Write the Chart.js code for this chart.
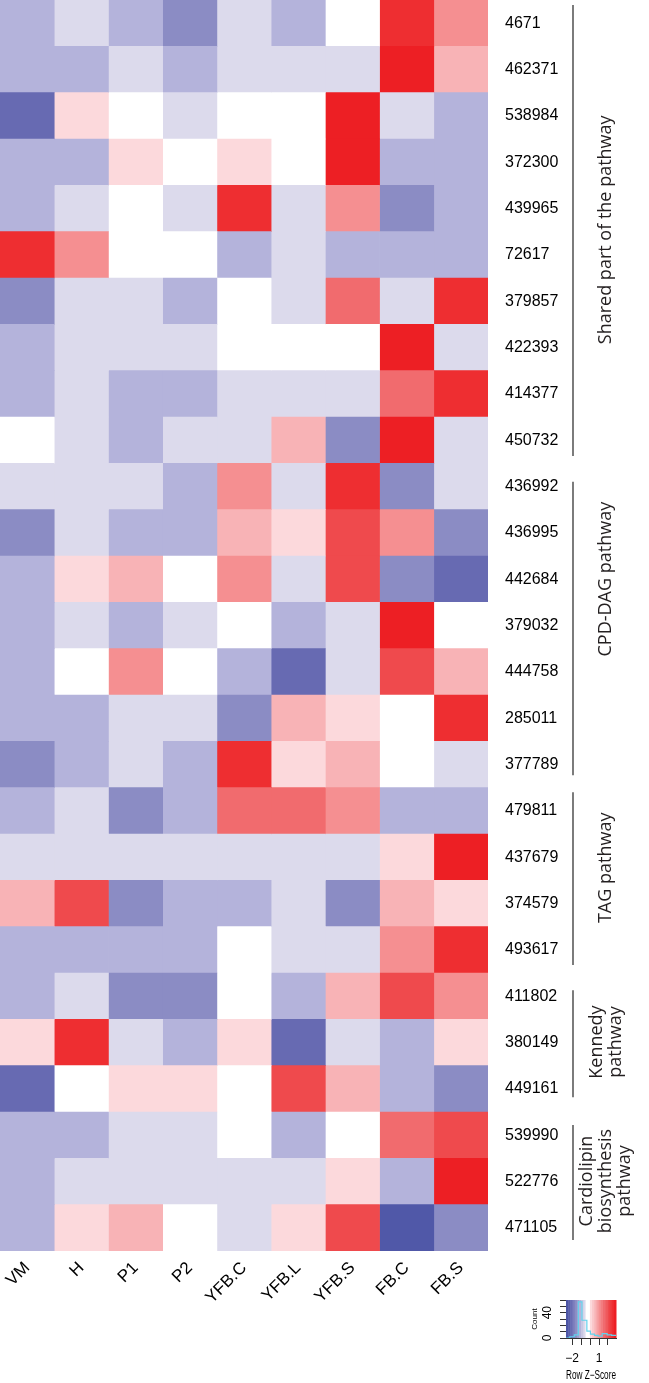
<!DOCTYPE html>
<html>
<head>
<meta charset="utf-8">
<script src="https://cdn.jsdelivr.net/npm/chart.js@4.4.0/dist/chart.umd.min.js"></script>
<style>
  html, body { margin: 0; padding: 0; background: #fff; }
  #wrap { position: relative; width: 649px; height: 1383px; }
  #heat { position: absolute; left: 0; top: 0; }
  #key { position: absolute; left: 500px; top: 1280px; }
</style>
</head>
<body>
<div id="wrap">
  <canvas id="heat" width="649" height="1383"></canvas>
  <canvas id="key" width="149" height="103"></canvas>
</div>
<script>
// columns of the heatmap
var samples = ['VM', 'H', 'P1', 'P2', 'YFB.C', 'YFB.L', 'YFB.S', 'FB.C', 'FB.S'];

// rows (gene ids), top to bottom
var genes = ['4671', '462371', '538984', '372300', '439965', '72617', '379857', '422393',
  '414377', '450732', '436992', '436995', '442684', '379032', '444758', '285011', '377789',
  '479811', '437679', '374579', '493617', '411802', '380149', '449161', '539990', '522776', '471105'];

// colour level of each cell (row z-score bins: -5 deep blue ... 0 white ... 7 deep red)
var levels = [
  [-2, -1, -2, -3, -1, -2,  0,  6,  3],
  [-2, -2, -1, -2, -1, -1, -1,  7,  2],
  [-4,  1,  0, -1,  0,  0,  7, -1, -2],
  [-2, -2,  1,  0,  1,  0,  7, -2, -2],
  [-2, -1,  0, -1,  6, -1,  3, -3, -2],
  [ 6,  3,  0,  0, -2, -1, -2, -2, -2],
  [-3, -1, -1, -2,  0, -1,  4, -1,  6],
  [-2, -1, -1, -1,  0,  0,  0,  7, -1],
  [-2, -1, -2, -2, -1, -1, -1,  4,  6],
  [ 0, -1, -2, -1, -1,  2, -3,  7, -1],
  [-1, -1, -1, -2,  3, -1,  6, -3, -1],
  [-3, -1, -2, -2,  2,  1,  5,  3, -3],
  [-2,  1,  2,  0,  3, -1,  5, -3, -4],
  [-2, -1, -2, -1,  0, -2, -1,  7,  0],
  [-2,  0,  3,  0, -2, -4, -1,  5,  2],
  [-2, -2, -1, -1, -3,  2,  1,  0,  6],
  [-3, -2, -1, -2,  6,  1,  2,  0, -1],
  [-2, -1, -3, -2,  4,  4,  3, -2, -2],
  [-1, -1, -1, -1, -1, -1, -1,  1,  7],
  [ 2,  5, -3, -2, -2, -1, -3,  2,  1],
  [-2, -2, -2, -2,  0, -1, -1,  3,  6],
  [-2, -1, -3, -3,  0, -2,  2,  5,  3],
  [ 1,  6, -1, -2,  1, -4, -1, -2,  1],
  [-4,  0,  1,  1,  0,  5,  2, -2, -3],
  [-2, -2, -1, -1,  0, -2,  0,  4,  5],
  [-2, -1, -1, -1, -1, -1,  1, -2,  7],
  [-2,  1,  2,  0, -1,  1,  5, -5, -3]
];

// pathway groups: label lines, bracket start/end and label centre in row units
var groupNames = [['Shared part of the pathway'], ['CPD-DAG pathway'], ['TAG pathway'],
  ['Kennedy', 'pathway'], ['Cardiolipin', 'biosynthesis', 'pathway']];
var groupFrom = [-0.39, 9.9, 16.6, 20.87, 23.78];
var groupTo = [9.34, 16.23, 20.33, 23.18, 26.26];
var groupMid = [4.46, 12.0, 18.23, 21.99, 24.99];

// colour key histogram
var keyBins = [-2.67, -2.25, -1.75, -1.3, -0.9, -0.35, 0.05, 0.5, 0.9, 1.35, 1.9, 2.4, 2.89];
var keyCounts = [0, 0, 2, 5, 57, 28, 11, 6, 4, 3, 7, 5, 4];
var keyTicks = [-2, -1, 0, 1, 2];

var palette = {
  '-5': '#5058a8', '-4': '#676ab2', '-3': '#8b8cc4', '-2': '#b4b3db', '-1': '#dcdaec',
  '0': '#ffffff', '1': '#fcd9dc', '2': '#f8b3b6', '3': '#f58f91', '4': '#f16b6e',
  '5': '#ef4a4d', '6': '#ee2e31', '7': '#ed1f24'
};
var keyBands = ['#4c55a5', '#5a60ab', '#6a6db3', '#7b7dbc', '#8c8dc4', '#a09fce', '#b4b4db',
  '#c8c7e3', '#dcdaec', '#ffffff', '#ffffff', '#fcd9dc', '#fac6c9', '#f8b4b7', '#f6a1a4',
  '#f48f91', '#f27d80', '#f06b6f', '#ef5a5d', '#ee4a4d', '#ee3c3f', '#ee2e31', '#ed1f24'];

var datasets = samples.map(function (s, j) {
  return {
    label: s,
    data: genes.map(function () { return 1; }),
    backgroundColor: genes.map(function (g, i) { return palette[levels[i][j]]; }),
    borderWidth: 0,
    barPercentage: 1,
    categoryPercentage: 1
  };
});

var groupPlugin = {
  id: 'groups',
  afterDraw: function (chart) {
    var ctx = chart.ctx;
    var ys = chart.scales.y;
    ctx.save();
    ctx.strokeStyle = '#444';
    ctx.lineWidth = 1.4;
    ctx.fillStyle = '#231f20';
    ctx.font = '18px "Open Sans"';
    ctx.textAlign = 'center';
    ctx.textBaseline = 'middle';
    for (var k = 0; k < groupNames.length; k++) {
      var y1 = ys.getPixelForValue(groupFrom[k]);
      var y2 = ys.getPixelForValue(groupTo[k]);
      ctx.beginPath();
      ctx.moveTo(573, y1);
      ctx.lineTo(573, y2);
      ctx.stroke();
      var lines = groupNames[k];
      var lh = 19;
      var cy = ys.getPixelForValue(groupMid[k]);
      for (var n = 0; n < lines.length; n++) {
        var x = 606 + (n - (lines.length - 1) / 2) * lh;
        ctx.save();
        ctx.translate(x, cy);
        ctx.rotate(-Math.PI / 2);
        ctx.fillText(lines[n], 0, 0);
        ctx.restore();
      }
    }
    ctx.restore();
  }
};

new Chart(document.getElementById('heat'), {
  type: 'bar',
  data: { labels: genes, datasets: datasets },
  options: {
    responsive: false,
    animation: false,
    indexAxis: 'y',
    layout: { padding: 0 },
    plugins: { legend: { display: false }, tooltip: { enabled: false } },
    scales: {
      x: {
        type: 'linear', stacked: true, min: 0, max: samples.length,
        grid: { display: false, drawTicks: false }, border: { display: false },
        afterBuildTicks: function (scale) {
          scale.ticks = samples.map(function (s, i) { return { value: i + 0.5 }; });
        },
        ticks: {
          autoSkip: false, minRotation: 45, maxRotation: 45, padding: 7,
          color: '#000', font: { family: 'Liberation Sans', size: 17 },
          callback: function (v) { return samples[Math.floor(v)]; }
        },
        afterFit: function (scale) {
          scale.height = 132; scale.paddingLeft = 0; scale.paddingRight = 0;
        }
      },
      y: {
        type: 'category', position: 'right', stacked: true,
        grid: { display: false, drawTicks: false }, border: { display: false },
        ticks: { padding: 17, color: '#000', font: { family: 'Liberation Sans', size: 16 } },
        afterFit: function (scale) {
          scale.width = 161; scale.paddingTop = 0; scale.paddingBottom = 0;
        }
      }
    }
  },
  plugins: [groupPlugin]
});

var bandPlugin = {
  id: 'bands',
  beforeDatasetsDraw: function (chart) {
    var a = chart.chartArea;
    var ctx = chart.ctx;
    var w = (a.right - a.left) / keyBands.length;
    ctx.save();
    for (var i = 0; i < keyBands.length; i++) {
      ctx.fillStyle = keyBands[i];
      ctx.fillRect(a.left + i * w, a.top, w + 0.5, a.bottom - a.top);
    }
    ctx.restore();
  }
};

new Chart(document.getElementById('key'), {
  type: 'line',
  data: {
    datasets: [{
      data: keyBins.map(function (b, i) { return { x: b, y: keyCounts[i] }; }),
      borderColor: '#62d2ec', borderWidth: 1.2, pointRadius: 0, stepped: 'after', fill: false
    }]
  },
  options: {
    responsive: false,
    animation: false,
    layout: { padding: { top: 20, right: 33, left: 30, bottom: 0 } },
    plugins: { legend: { display: false }, tooltip: { enabled: false } },
    scales: {
      x: {
        type: 'linear', min: -2.67, max: 2.89,
        afterBuildTicks: function (scale) {
          scale.ticks = keyTicks.map(function (t) { return { value: t }; });
        },
        grid: { drawOnChartArea: false, tickLength: 7, color: '#333' },
        border: { display: true, color: '#333' },
        ticks: {
          autoSkip: false, maxRotation: 0, padding: 6, color: '#000',
          font: { family: 'Liberation Sans', size: 12 },
          callback: function (v) { return v === -2 ? '\u22122' : (v === 1 ? '1' : ''); }
        },
        title: { display: true, text: 'Row Z\u2212Score', color: '#000', padding: 0,
          font: { family: 'Liberation Sans', size: 12 } },
        afterFit: function (scale) {
          scale.height = 45; scale.paddingLeft = 0; scale.paddingRight = 0;
        }
      },
      y: {
        type: 'linear', min: 0, max: 60,
        grid: { drawOnChartArea: false, tickLength: 6, color: '#333' },
        border: { display: true, color: '#333' },
        ticks: {
          autoSkip: false, stepSize: 10, minRotation: 90, maxRotation: 90, crossAlign: 'center',
          padding: 6, color: '#000', font: { family: 'Liberation Sans', size: 12 },
          callback: function (v) { return (v === 0 || v === 40) ? String(v) : ''; }
        },
        title: { display: true, text: 'Count', color: '#000', padding: 0,
          font: { family: 'Liberation Sans', size: 8 } },
        afterFit: function (scale) {
          scale.width = 36; scale.paddingTop = 0; scale.paddingBottom = 0;
        }
      }
    }
  },
  plugins: [bandPlugin]
});
</script>
</body>
</html>
